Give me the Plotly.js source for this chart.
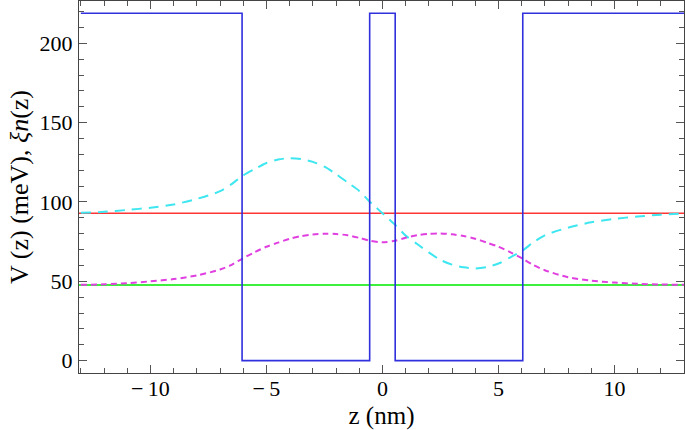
<!DOCTYPE html>
<html>
<head>
<meta charset="utf-8">
<script src="https://cdn.plot.ly/plotly-3.0.1.min.js"></script>
<style>
html,body{margin:0;padding:0;background:#fff;}
#chart{width:685px;height:430px;}
</style>
</head>
<body>
<div id="chart"></div>
<script>
// Potential profile V(z) (meV) vs z (nm)
const potZ = [-13, -6.05, -6.05, -0.55, -0.55, 0.55, 0.55, 6.05, 6.05, 13];
const potV = [219, 219, 0, 0, 219, 219, 0, 0, 219, 219];

// Energy levels (meV)
const levelE1 = 47.7;
const levelE2 = 92.9;
const levelZ = [-13.1, 13.1];

// xi_1(z): ground state (magenta, short dash)
const xi1Z = [-13, -12, -11, -10, -9, -8, -7, -6.5, -6.05, -5.5, -5, -4.5, -4, -3.5, -3, -2.5, -2, -1.5, -1, -0.55, 0,
              0.55, 1, 1.5, 2, 2.5, 3, 3.5, 4, 4.5, 5, 5.5, 6.05, 6.5, 7, 8, 9, 10, 11, 12, 13];
const xi1V = [47.8, 48.1, 48.8, 50.0, 51.4, 53.7, 57.4, 60.4, 64.2, 68.4, 71.8, 74.4, 76.8, 78.5, 79.5, 80.0, 79.8, 79.0, 77.4, 75.6, 74.6,
              75.6, 77.4, 79.0, 79.9, 80.2, 79.6, 78.5, 76.8, 74.4, 71.8, 68.4, 64.2, 60.3, 57.0, 52.6, 50.4, 49.2, 48.4, 48.0, 47.8];

// xi_2(z): first excited state (cyan, long dash)
const xi2Z = [-13, -12, -11, -10, -9, -8, -7, -6.5, -6.05, -5.5, -5, -4.5, -4, -3.5, -3, -2.5, -2, -1.5, -1, -0.55, -0.27, 0,
              0.27, 0.55, 1, 1.5, 2, 2.5, 3, 3.5, 4, 4.5, 5, 5.5, 6.05, 6.5, 7, 8, 9, 10, 11, 12, 13];
const xi2V = [93.2, 93.8, 95.0, 96.4, 98.4, 102.0, 106.8, 111.3, 116.3, 120.8, 124.6, 126.8, 127.6, 127.0, 125.3, 122.3, 117.6, 112.3, 107.0, 100.2, 96.5, 92.9,
              89.3, 85.6, 78.8, 73.5, 68.2, 63.5, 60.5, 58.8, 58.1, 59.0, 61.2, 65.0, 69.5, 74.5, 79.0, 83.8, 87.2, 89.4, 90.8, 92.0, 92.7];

// Tick labels
const xTickVals = [-10, -5, 0, 5, 10];
const xTickText = ['\u2212\u200910', '\u2212\u20095', '0', '5', '10'];
const yTickVals = [0, 50, 100, 150, 200];

const serif = 'Liberation Serif';

const traces = [
  {x: levelZ, y: [levelE2, levelE2], mode: 'lines', line: {color: '#ff3535', width: 1.5}},
  {x: levelZ, y: [levelE1, levelE1], mode: 'lines', line: {color: '#3ef03e', width: 2}},
  {x: xi2Z, y: xi2V, mode: 'lines', line: {color: '#3ee6f0', width: 2, dash: '10px,7px', shape: 'spline', smoothing: 0.8}},
  {x: xi1Z, y: xi1V, mode: 'lines', line: {color: '#e040e0', width: 2, dash: '6px,4px', shape: 'spline', smoothing: 0.8}},
  {x: potZ, y: potV, mode: 'lines', line: {color: '#3030dd', width: 1.6}}
];

function axisBase() {
  return {
    showgrid: false, zeroline: false, showline: true, linecolor: '#444', linewidth: 1,
    mirror: 'ticks', ticks: 'inside', ticklen: 8, tickcolor: '#555', tickwidth: 1,
    tickfont: {family: serif, size: 22, color: '#000'}
  };
}

const layout = {
  width: 685, height: 430,
  margin: {l: 79, r: 1, t: 1, b: 57},
  paper_bgcolor: '#fff', plot_bgcolor: '#fff',
  showlegend: false,
  font: {family: serif, color: '#000'},
  xaxis: Object.assign(axisBase(), {
    range: [-13.08, 13.0], tickvals: xTickVals, ticktext: xTickText,
    minor: {dtick: 1, tick0: 0, ticks: 'inside', ticklen: 5, tickcolor: '#555'},
    ticklabelstandoff: -4,
    title: {text: 'z (nm)\u00a0\u00a0\u00a0', font: {family: serif, size: 25, color: '#000'}, standoff: 11}
  }),
  yaxis: Object.assign(axisBase(), {
    range: [-7.8, 226.7], tickvals: yTickVals,
    minor: {dtick: 10, tick0: 0, ticks: 'inside', ticklen: 5, tickcolor: '#555'},
    ticklabelstandoff: 1,
    title: {text: 'V (z) (meV), <i>\u03be</i><i>n</i>(z)', font: {family: serif, size: 26, color: '#000'}, standoff: 3}
  })
};

function draw() {
  Plotly.newPlot('chart', traces, layout, {displayModeBar: false, staticPlot: true}).then(() => {
    // force style/layout recalculation of the text so the loaded font is used
    document.querySelectorAll('#chart text').forEach(t => { t.getBoundingClientRect(); getComputedStyle(t).fontFamily; });
  });
}
Promise.all([
  document.fonts.load('22px "Liberation Serif"'),
  document.fonts.load('italic 22px "Liberation Serif"')
]).then(draw, draw);
</script>
</body>
</html>
